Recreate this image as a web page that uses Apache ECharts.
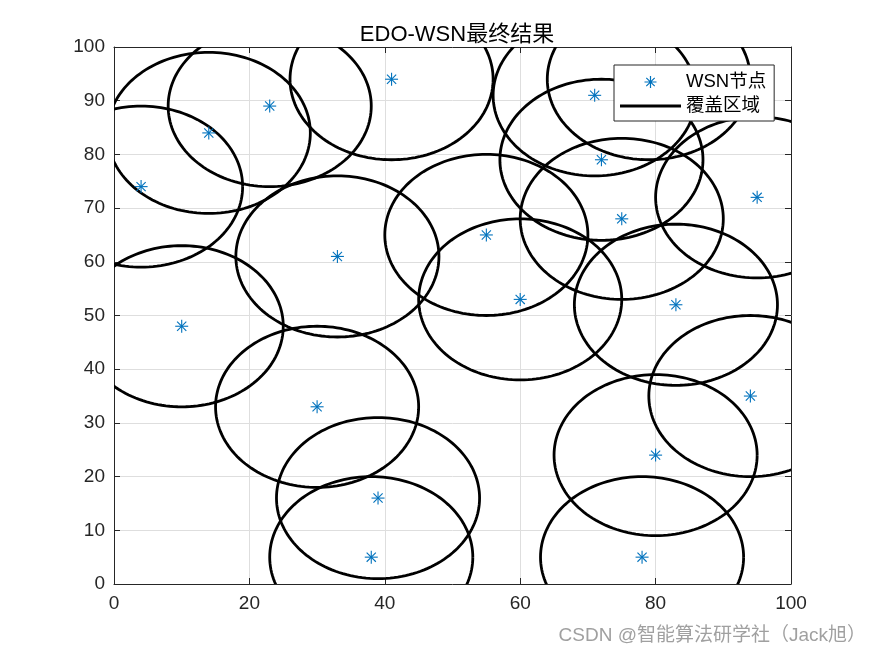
<!DOCTYPE html>
<html>
<head>
<meta charset="utf-8">
<script src="https://cdn.jsdelivr.net/npm/echarts@6/dist/echarts.min.js"></script>
<style>
html,body{margin:0;padding:0;background:#fff;}
#chart{width:875px;height:656px;}
</style>
</head>
<body>
<div id="chart"></div>
<script>
// Node positions (WSN节点)
var nodeX = [4, 14, 23, 41, 33, 10, 30, 39, 38, 55, 60, 71, 72, 75, 79, 83, 95, 94, 80, 78];
var nodeY = [74, 84, 89, 94, 61, 48, 33, 16, 5, 65, 53, 91, 79, 68, 94, 52, 72, 35, 24, 5];
// Coverage radius (覆盖区域)
var coverRadius = 15;
var xTicks = [0, 20, 40, 60, 80, 100];
var yTicks = [0, 10, 20, 30, 40, 50, 60, 70, 80, 90, 100];
var titleText = 'EDO-WSN最终结果';
var seriesNames = ['WSN节点', '覆盖区域'];
var watermark = 'CSDN @智能算法研学社（Jack旭）';

var FONT = 'Arial, "Liberation Sans", "Noto Sans CJK SC", sans-serif';
var nodes = nodeX.map(function (x, i) { return [x, nodeY[i], coverRadius]; });

var chart = echarts.init(document.getElementById('chart'), null, {renderer: 'canvas'});

var starIcon = 'path://M0,0L0.01,0L0,0.01Z' +
  'M29.9,1L31.1,1L31.1,13L29.9,13Z' +
  'M24.5,6.4L36.5,6.4L36.5,7.6L24.5,7.6Z' +
  'M26.72,2.38L35.12,10.78L34.28,11.62L25.88,3.22Z' +
  'M25.88,10.78L34.28,2.38L35.12,3.22L26.72,11.62Z' +
  'M61,14L60.99,14L61,13.99Z';
var lineIcon = 'path://M0,0L0.01,0L0,0.01Z M0,5.5L61,5.5L61,8.5L0,8.5Z M61,14L60.99,14L61,13.99Z';

var axisCommon = {
  type: 'value', min: 0, max: 100,
  axisLine: {show: true, onZero: false, lineStyle: {color: '#262626', width: 1}},
  axisTick: {show: true, inside: true, length: 6, lineStyle: {color: '#262626', width: 1}},
  splitLine: {show: false},
  axisLabel: {show: false}
};

var option = {
  animation: false,
  backgroundColor: '#ffffff',
  title: {
    text: titleText, left: 452, top: 19, textAlign: 'center',
    textStyle: {fontFamily: FONT, fontSize: 22, fontWeight: 'normal', color: '#000'}
  },
  grid: {left: 114, right: 84, top: 47, bottom: 72, containLabel: false},
  xAxis: [
    Object.assign({}, axisCommon, {
      position: 'bottom', interval: 20,
      splitLine: {show: true, lineStyle: {color: '#dedede', width: 1}},
      axisLabel: {show: true, margin: 10, fontFamily: FONT, fontSize: 19, color: '#262626',
        formatter: function (v) { return xTicks.indexOf(v) >= 0 ? String(v) : ''; }}
    }),
    Object.assign({}, axisCommon, {position: 'top', interval: 20})
  ],
  yAxis: [
    Object.assign({}, axisCommon, {
      position: 'left', interval: 10,
      splitLine: {show: true, lineStyle: {color: '#dedede', width: 1}},
      axisLabel: {show: true, margin: 9, fontFamily: FONT, fontSize: 19, color: '#262626',
        formatter: function (v) { return yTicks.indexOf(v) >= 0 ? String(v) : ''; }}
    }),
    Object.assign({}, axisCommon, {position: 'right', interval: 10})
  ],
  legend: {
    orient: 'vertical', left: 614, top: 65,
    padding: [7, 8, 5, 6], itemGap: 4,
    itemWidth: 61, itemHeight: 14,
    backgroundColor: '#ffffff', borderColor: '#262626', borderWidth: 1, borderRadius: 0,
    textStyle: {fontFamily: FONT, fontSize: 18.5, color: '#000', lineHeight: 20},
    itemStyle: {borderWidth: 0},
    data: [
      {name: seriesNames[0], icon: starIcon, itemStyle: {color: '#0072BD', borderWidth: 0}},
      {name: seriesNames[1], icon: lineIcon, itemStyle: {color: '#000000', borderWidth: 0}}
    ]
  },
  series: [
    {
      name: seriesNames[1], type: 'custom', clip: true, z: 2,
      itemStyle: {color: '#000000'},
      data: nodes,
      renderItem: function (params, api) {
        var cx = api.value(0), cy = api.value(1), r = api.value(2);
        var pts = [];
        var N = 160;
        for (var k = 0; k <= N; k++) {
          var t = 2 * Math.PI * k / N;
          pts.push(api.coord([cx + r * Math.cos(t), cy + r * Math.sin(t)]));
        }
        return {
          type: 'polyline',
          shape: {points: pts},
          style: {stroke: '#000000', lineWidth: 2.8, fill: null}
        };
      }
    },
    {
      name: seriesNames[0], type: 'custom', z: 3,
      itemStyle: {color: '#0072BD'},
      data: nodes,
      renderItem: function (params, api) {
        var p = api.coord([api.value(0), api.value(1)]);
        var h = 6.5, d = 4.6;
        var st = {stroke: '#0072BD', lineWidth: 1.1};
        return {
          type: 'group',
          children: [
            {type: 'line', shape: {x1: p[0] - h, y1: p[1], x2: p[0] + h, y2: p[1]}, style: st},
            {type: 'line', shape: {x1: p[0], y1: p[1] - h, x2: p[0], y2: p[1] + h}, style: st},
            {type: 'line', shape: {x1: p[0] - d, y1: p[1] - d, x2: p[0] + d, y2: p[1] + d}, style: st},
            {type: 'line', shape: {x1: p[0] - d, y1: p[1] + d, x2: p[0] + d, y2: p[1] - d}, style: st}
          ]
        };
      }
    }
  ],
  graphic: [
    {
      type: 'text', right: 9, top: 626,
      style: {text: watermark, fontFamily: FONT, fontSize: 19, fill: '#a0a0a0'}
    }
  ]
};
chart.setOption(option);
</script>
</body>
</html>
